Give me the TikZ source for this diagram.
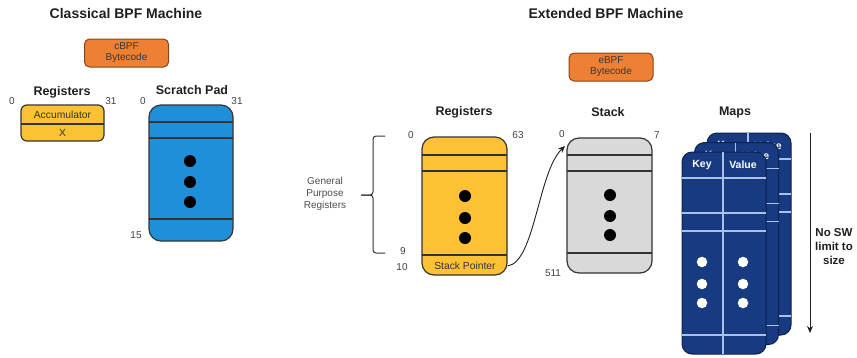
\documentclass[tikz,border=0pt]{standalone}
\usepackage{fontspec}
\setmainfont{Liberation Sans}
\usetikzlibrary{arrows.meta}
\definecolor{orangebox}{HTML}{EE8034}
\definecolor{orangeedge}{HTML}{8A4416}
\definecolor{yellowbox}{HTML}{FCC234}
\definecolor{bluepad}{HTML}{1F8FDA}
\definecolor{graystack}{HTML}{D9D9D9}
\definecolor{navycard}{HTML}{173A80}
\definecolor{navyedge}{HTML}{0C2150}
\definecolor{mapline}{HTML}{A9C2EA}
\definecolor{numgray}{HTML}{404040}
\definecolor{edgegray}{HTML}{333333}
\begin{document}
\begin{tikzpicture}[x=1pt,y=-1pt,
 title/.style={font=\fontsize{14}{16}\selectfont\bfseries,text=black!88},
 hdr/.style={font=\fontsize{12.5}{14}\selectfont\bfseries,text=black!88},
 num/.style={font=\fontsize{10}{12}\selectfont,text=numgray,inner sep=0pt},
 intext/.style={font=\fontsize{10.3}{12}\selectfont,text=black!80,inner sep=0pt},
 bytecode/.style={draw=orangeedge,fill=orangebox,line width=1pt,rounded corners=5pt,minimum width=84pt,minimum height=28pt,inner sep=0pt,align=center,font=\fontsize{10}{11}\selectfont,text=black!78},
 membox/.style={draw=edgegray,line width=1.2pt,rounded corners=12pt,inner sep=0pt},
 divline/.style={draw=edgegray,line width=1.2pt},
 bigdot/.style={circle,fill=black,minimum size=12pt,inner sep=0pt},
 card/.style={draw=navyedge,fill=navycard,line width=1pt,rounded corners=10pt,minimum width=84pt,minimum height=202pt,inner sep=0pt},
 mline/.style={draw=mapline,line width=1.1pt},
 wdot/.style={circle,fill=white,minimum size=10.5pt,inner sep=0pt},
 keytext/.style={font=\fontsize{10.5}{12}\selectfont\bfseries,text=white,inner sep=0pt},
 arrowline/.style={-{Stealth[length=7pt,width=6pt]},line width=0.9pt,draw=black!88}
]
\useasboundingbox (0,0) rectangle (857,357);
% ---------------- Classical ----------------
\node[title] (ctitle) at (126,13) {Classical BPF Machine};
\node[bytecode] (cbpf) at (126.5,53) {cBPF\\Bytecode};
\node[hdr] (cregl) at (62,92) {Registers};
\node[num] (creg0) at (12,101) {0};
\node[num] (creg31) at (111,101) {31};
\node[membox,fill=yellowbox,rounded corners=6pt,minimum width=83pt,minimum height=36pt] (creg) at (62.5,123) {};
\draw[divline] (21,124) -- (104,124);
\node[intext] (acc) at (62.5,115) {Accumulator};
\node[intext] (xreg) at (62.5,133) {X};
\node[hdr] (spl) at (192,90) {Scratch Pad};
\node[num] (sp0) at (143,101) {0};
\node[num] (sp31) at (237,101) {31};
\node[num] (sp15) at (136,235) {15};
\node[membox,fill=bluepad,minimum width=84pt,minimum height=136pt] (pad) at (191,173) {};
\foreach \yy in {122,138,219} \draw[divline] (149,\yy) -- (233,\yy);
\node[bigdot] (pd1) at (190,161) {};
\node[bigdot] (pd2) at (190,182) {};
\node[bigdot] (pd3) at (190,202) {};
% ---------------- Extended ----------------
\node[title] (etitle) at (606,13) {Extended BPF Machine};
\node[bytecode] (ebpf) at (611,67) {eBPF\\Bytecode};
\node[hdr] (eregl) at (464,112) {Registers};
\node[membox,fill=yellowbox,minimum width=85pt,minimum height=138pt] (regs) at (464.5,206) {};
\foreach \yy in {155,171,255} \draw[divline] (422,\yy) -- (507,\yy);
\node[bigdot] (rd1) at (465,196) {};
\node[bigdot] (rd2) at (465,218) {};
\node[bigdot] (rd3) at (465,238) {};
\node[intext] (sptr) at (465,266) {Stack Pointer};
\node[num] (er0) at (411,135) {0};
\node[num] (er63) at (518,135) {63};
\node[num] (er9) at (403,251) {9};
\node[num] (er10) at (402,267) {10};
\draw[line width=1pt,draw=edgegray,rounded corners=3pt] (385,136) -- (373,136) -- (373,195) -- (361,195);
\draw[line width=1pt,draw=edgegray,rounded corners=3pt] (361,195) -- (373,195) -- (373,253) -- (385,253);
\node[font=\fontsize{10}{12}\selectfont,text=black!70,align=center] (gpr) at (325,194) {General\\Purpose\\Registers};
\node[hdr] (stl) at (608,112) {Stack};
\node[membox,fill=graystack,minimum width=85pt,minimum height=135pt] (stack) at (609.5,205.5) {};
\foreach \yy in {155,171,253} \draw[divline] (567,\yy) -- (652,\yy);
\node[bigdot] (sd1) at (610,195) {};
\node[bigdot] (sd2) at (610,216) {};
\node[bigdot] (sd3) at (610,235) {};
\node[num] (st0) at (562,134) {0};
\node[num] (st7) at (657,135) {7};
\node[num] (st511) at (553,273) {511};
\coordinate (stacktip) at (565,146);
\draw[arrowline] (regs.east |- sptr) .. controls (535,262) and (538,172) .. (stacktip);
% maps
\node[hdr] (mapl) at (735,112) {Maps};
\foreach \dx/\dy/\i in {25/-19/3,12.5/-9.5/2,0/0/1}{
 \begin{scope}[shift={(\dx,\dy)}]
  \node[card] (map\i) at (724,253) {};
  \draw[mline] (723,152) -- (723,354);
  \foreach \yy in {178,213,231,335} \draw[mline] (682,\yy) -- (766,\yy);
  \node[keytext] (key\i) at (702,165) {Key};
  \node[keytext] (val\i) at (743,165) {Value};
  \ifnum\i=1
   \foreach \yy [count=\k] in {262,284,303} {
     \node[wdot] (kd\k) at (702,\yy) {};
     \node[wdot] (vd\k) at (743,\yy) {};
   }
  \fi
 \end{scope}
}
\coordinate (nswtop) at (810,133);
\coordinate (nswbot) at (810,333);
\draw[arrowline] (nswtop) -- (nswbot);
\node[font=\fontsize{11.5}{14}\selectfont\bfseries,align=center,text=black!88,inner sep=0pt] (nsw) at (834,247) {No SW\\limit to\\size};
\end{tikzpicture}
\end{document}
